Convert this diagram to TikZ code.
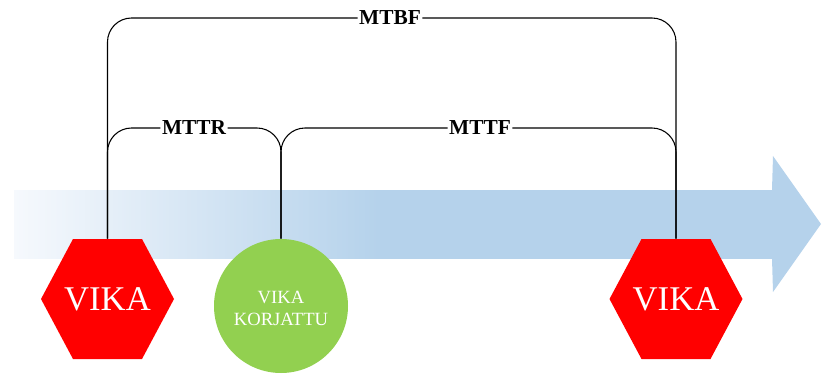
\documentclass[tikz,border=0pt]{standalone}
\usepackage{fontspec}
\setmainfont{Liberation Serif}
\usepackage{tikz}
\usetikzlibrary{calc}
\definecolor{vikared}{RGB}{255, 0, 0}
\definecolor{korjgreen}{RGB}{146, 208, 80}
\definecolor{arrowblue}{RGB}{181, 210, 235}
\definecolor{arrowpale}{RGB}{246, 249, 253}
\pgfdeclarehorizontalshading{timefade}{100bp}{color(0bp)=(arrowpale); color(25bp)=(arrowpale); color(49bp)=(arrowblue); color(100bp)=(arrowblue)}
\tikzset{
  hexa/.style={rectangle, minimum width=99.75pt, minimum height=90pt, inner sep=0pt, text=white,
    font=\fontsize{26}{28}\selectfont,
    path picture={\fill[vikared] (path picture bounding box.west)
      -- ($(path picture bounding box.north west)+(32,0)$) -- ($(path picture bounding box.north east)+(-32,0)$)
      -- (path picture bounding box.east)
      -- ($(path picture bounding box.south east)+(-32,0)$) -- ($(path picture bounding box.south west)+(32,0)$) -- cycle;}},
  bracket/.style={line width=0.8pt, rounded corners=18pt},
  tag/.style={inner sep=1pt, font=\fontsize{16}{18}\selectfont\bfseries}
}

\begin{document}
\begin{tikzpicture}[x=0.75pt, y=-0.75pt]
    \useasboundingbox (0,0) rectangle (822,378);
    \shade[shading=timefade, draw=none] (14,190) rectangle (773,258);
    \fill[arrowblue] (772,190) -- (773,156) -- (821,224) -- (773,292) -- (772,258) -- cycle;
    \node (vika1) at (107.5,299) [hexa] {VIKA};
    \node (korj) at (281,306) [circle, minimum size=100.5pt, inner sep=0pt, fill=korjgreen, text=white, align=center, font=\fontsize{14}{17}\selectfont] {\\[-4pt]VIKA\\KORJATTU};
    \node (vika2) at (676,299) [hexa] {VIKA};
    \node (mtbf) at (390,18) [tag] {MTBF};
    \node (mttr) at (194,128) [tag] {MTTR};
    \node (mttf) at (480,128) [tag] {MTTF};
    \draw[bracket] (vika1.north) |- (mtbf.west);
    \draw[bracket] (mtbf.east) -| (vika2.north);
    \draw[bracket] (vika1.north) |- (mttr.west);
    \draw[bracket] (mttr.east) -| (korj.north);
    \draw[bracket] (korj.north) |- (mttf.west);
    \draw[bracket] (mttf.east) -| (vika2.north);
  \end{tikzpicture}
\end{document}
